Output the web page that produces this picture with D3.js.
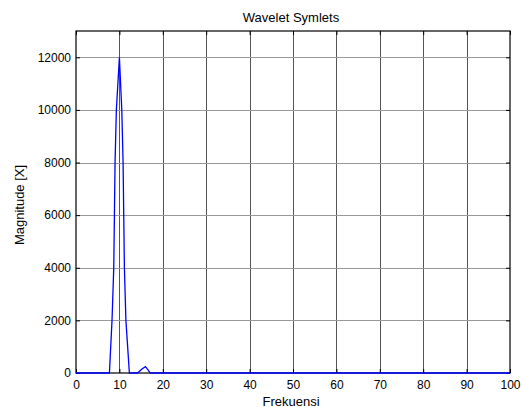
<!DOCTYPE html>
<html>
<head>
<meta charset="utf-8">
<script src="https://cdn.jsdelivr.net/npm/d3@7"></script>
<style>
  html, body { margin: 0; padding: 0; background: #fff; }
  svg { display: block; font-family: "Liberation Sans", Arial, sans-serif; }
</style>
</head>
<body>
<svg id="chart" width="522" height="407"></svg>
<script>
// Spectrum of the Symlet wavelet signal
const frekuensi = [0, 7.0, 7.7, 8.3, 8.7, 8.85, 9.0, 9.3, 10.0, 10.55, 10.85, 11.0, 11.15, 11.5, 12.3, 14.2, 15.2, 16.0, 16.6, 17.1, 100];
const magnitude = [0, 0, 0, 2000, 4000, 6000, 8000, 10000, 12000, 10000, 8000, 6000, 4000, 2000, 0, 0, 150, 240, 120, 0, 0];

const xTicks = [0, 10, 20, 30, 40, 50, 60, 70, 80, 90, 100];
const yTicks = [0, 2000, 4000, 6000, 8000, 10000, 12000];

const titleText = "Wavelet Symlets";
const xLabel = "Frekuensi";
const yLabel = "Magnitude [X]";

const svg = d3.select("#chart");
const plotL = 76, plotR = 510, plotT = 31, plotB = 373;
const tickFont = 12, labelFont = 13;

const x = d3.scaleLinear().domain([0, 100]).range([plotL, plotR]);
const y = d3.scaleLinear().domain([0, 13000]).range([plotB, plotT]);

// grid
const grid = svg.append("g");
grid.selectAll("line.v").data(xTicks.slice(1, -1)).enter().append("line")
  .attr("x1", d => Math.round(x(d)) + 0.5).attr("x2", d => Math.round(x(d)) + 0.5)
  .attr("y1", plotT).attr("y2", plotB)
  .attr("stroke", "#555").attr("stroke-width", 1);
grid.selectAll("line.h").data(yTicks.slice(1)).enter().append("line")
  .attr("y1", d => Math.round(y(d)) + 0.5).attr("y2", d => Math.round(y(d)) + 0.5)
  .attr("x1", plotL).attr("x2", plotR)
  .attr("stroke", "#999").attr("stroke-width", 1);

// axes with inward ticks on all four sides
const tick = 4;
const fmt = d3.format("d");
const axB = svg.append("g").attr("transform", `translate(0,${plotB})`)
  .call(d3.axisBottom(x).tickValues(xTicks).tickFormat(fmt).tickSize(-tick).tickPadding(7.5).tickSizeOuter(0));
const axT = svg.append("g").attr("transform", `translate(0,${plotT})`)
  .call(d3.axisTop(x).tickValues(xTicks).tickSize(-tick).tickFormat("").tickSizeOuter(0));
const axL = svg.append("g").attr("transform", `translate(${plotL},0)`)
  .call(d3.axisLeft(y).tickValues(yTicks).tickFormat(fmt).tickSize(-tick).tickPadding(5).tickSizeOuter(0));
const axR = svg.append("g").attr("transform", `translate(${plotR},0)`)
  .call(d3.axisRight(y).tickValues(yTicks).tickSize(-tick).tickFormat("").tickSizeOuter(0));

[axB, axT, axL, axR].forEach(g => {
  g.select(".domain").remove();
  g.selectAll("line").attr("stroke", "#000");
  g.selectAll("text").attr("font-size", tickFont).attr("fill", "#000")
    .attr("font-family", "Liberation Sans, Arial, sans-serif");
});

// box
svg.append("rect").attr("x", plotL).attr("y", plotT)
  .attr("width", plotR - plotL).attr("height", plotB - plotT)
  .attr("fill", "none").attr("stroke", "#000").attr("stroke-width", 1.2);

// spectrum line
const line = d3.line().x((d, i) => x(frekuensi[i])).y(d => y(d));
svg.append("path").datum(magnitude)
  .attr("d", line)
  .attr("fill", "none").attr("stroke", "#0000ff").attr("stroke-width", 1.3);

// labels
svg.append("text").attr("x", 291).attr("y", 22).attr("text-anchor", "middle")
  .attr("font-size", labelFont).text(titleText);
svg.append("text").attr("x", 291).attr("y", 405.5).attr("text-anchor", "middle")
  .attr("font-size", labelFont).text(xLabel);
svg.append("text").attr("transform", `translate(23.5,${(plotT + plotB) / 2 + 3}) rotate(-90)`)
  .attr("text-anchor", "middle").attr("font-size", labelFont).text(yLabel);
</script>
</body>
</html>
